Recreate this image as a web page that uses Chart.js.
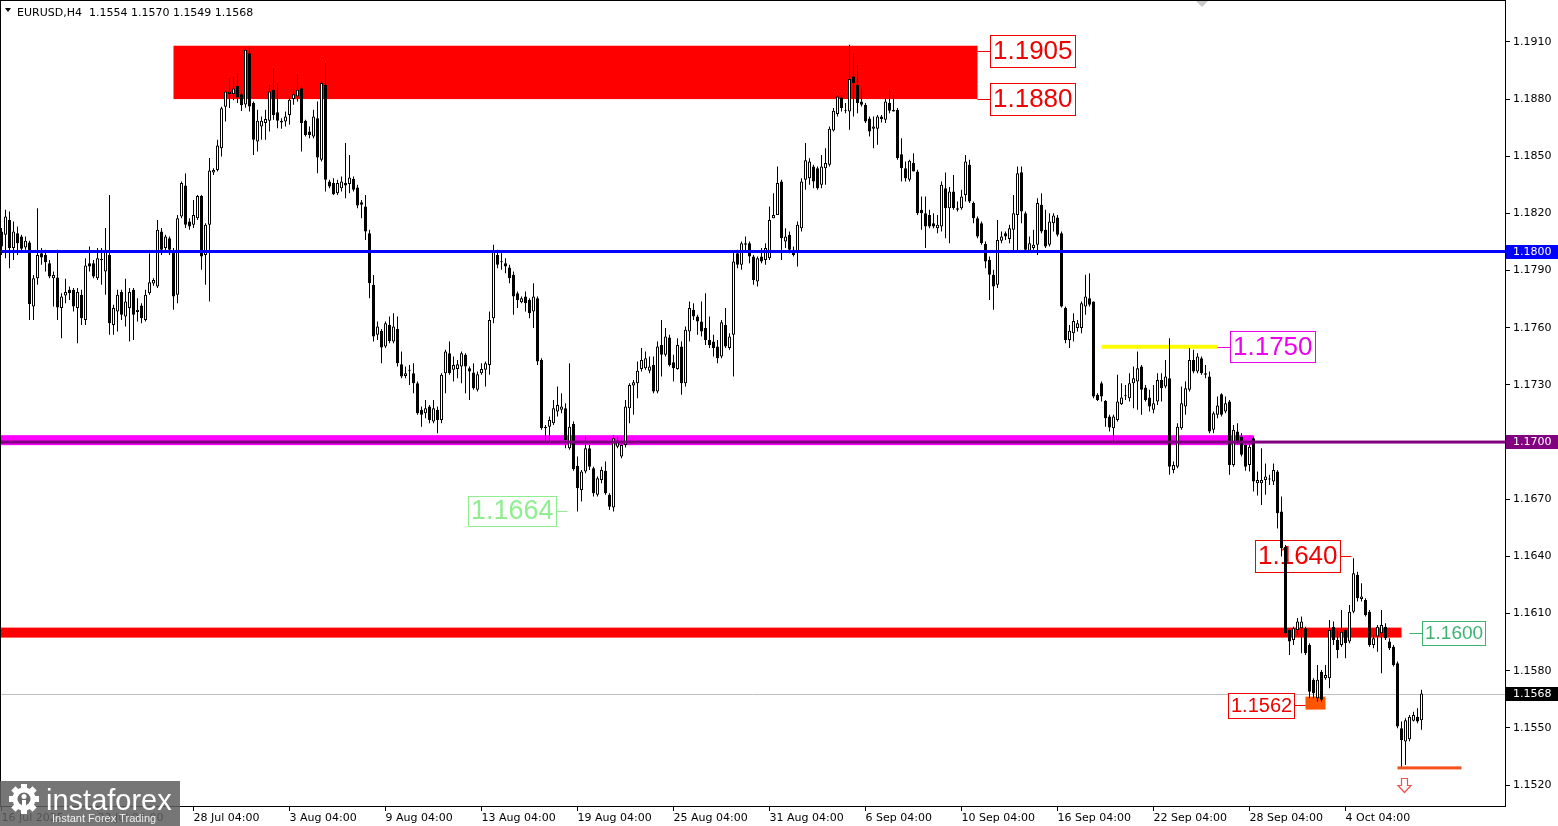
<!DOCTYPE html>
<html><head><meta charset="utf-8">
<script src="https://cdn.jsdelivr.net/npm/chart.js@4.4.1/dist/chart.umd.min.js"></script>
<style>html,body{margin:0;padding:0;background:#fff;overflow:hidden}canvas{display:block}</style>
</head><body>
<canvas id="c" width="1558" height="826"></canvas>
<script>
// ---------- DATA (EURUSD H4) ----------
const opens = [
1.18105,1.18088,1.18166,1.18018,1.18096,1.18079,1.18021,1.18047,1.17711,1.17860,
1.17991,1.17982,1.17939,1.17860,1.17864,1.17703,1.17769,1.17799,1.17799,1.17703,
1.17773,1.17641,1.17939,1.17939,1.17860,1.17956,1.17895,1.17982,1.17615,1.17685,
1.17787,1.17659,1.17703,1.17799,1.17682,1.17717,1.17641,1.17781,1.17832,1.17816,
1.18105,1.18018,1.18070,1.18000,1.17773,1.18184,1.18346,1.18157,1.18140,1.18175,
1.18292,1.17982,1.18140,1.18415,1.18428,1.18542,1.18760,1.18827,1.18827,1.18869,
1.18825,1.18772,1.19041,1.18779,1.18577,1.18656,1.18674,1.18686,1.18849,1.18731,
1.18677,1.18682,1.18717,1.18801,1.18814,1.18857,1.18686,1.18630,1.18604,1.18700,
1.18481,1.18875,1.18367,1.18359,1.18306,1.18332,1.18359,1.18354,1.18381,1.18336,
1.18259,1.18236,1.18096,1.17825,1.17563,1.17584,1.17501,1.17615,1.17528,1.17594,
1.17409,1.17347,1.17374,1.17361,1.17309,1.17169,1.17151,1.17186,1.17108,1.17169,
1.17116,1.17361,1.17466,1.17379,1.17384,1.17396,1.17458,1.17388,1.17365,1.17274,
1.17361,1.17379,1.17405,1.17650,1.17982,1.17948,1.17939,1.17916,1.17878,1.17781,
1.17734,1.17764,1.17746,1.17685,1.17755,1.17431,1.17081,1.17081,1.17099,1.17160,
1.17169,1.17178,1.16968,1.17095,1.16876,1.16749,1.16845,1.16968,1.16863,1.16723,
1.16801,1.16849,1.16723,1.16656,1.16976,1.16924,1.16985,1.17178,1.17297,1.17309,
1.17384,1.17388,1.17374,1.17405,1.17265,1.17510,1.17458,1.17549,1.17419,1.17384,
1.17501,1.17309,1.17580,1.17694,1.17659,1.17633,1.17598,1.17536,1.17528,1.17501,
1.17449,1.17615,1.17493,1.17563,1.17991,1.17930,1.18035,1.18044,1.17974,1.17843,
1.17974,1.17956,1.17965,1.18175,1.18192,1.18367,1.18052,1.18088,1.18009,1.18000,
1.18122,1.18376,1.18385,1.18446,1.18437,1.18350,1.18437,1.18455,1.18635,1.18722,
1.18808,1.18739,1.18735,1.18918,1.18875,1.18787,1.18770,1.18698,1.18644,1.18644,
1.18709,1.18691,1.18779,1.18735,1.18744,1.18511,1.18437,1.18376,1.18464,1.18420,
1.18219,1.18201,1.18192,1.18149,1.18122,1.18131,1.18332,1.18227,1.18315,1.18219,
1.18227,1.18297,1.18455,1.18254,1.18175,1.18149,1.18039,1.17956,1.17878,1.17825,
1.18056,1.18096,1.18066,1.18114,1.18192,1.18416,1.18201,1.18004,1.18018,1.18035,
1.18245,1.18114,1.18035,1.18149,1.18178,1.18096,1.17703,1.17536,1.17571,1.17598,
1.17598,1.17711,1.17755,1.17738,1.17248,1.17309,1.17216,1.17134,1.17073,1.17116,
1.17199,1.17241,1.17230,1.17309,1.17318,1.17396,1.17286,1.17234,1.17169,1.17213,
1.17326,1.17291,1.17335,1.16854,1.16871,1.17073,1.17186,1.17274,1.17431,1.17370,
1.17440,1.17361,1.17344,1.17064,1.17143,1.17251,1.17160,1.17213,1.16880,1.17055,
1.17029,1.16985,1.16880,1.17020,1.16784,1.16784,1.16801,1.16803,1.16793,1.16845,
1.16635,1.16451,1.16014,1.15961,1.16014,1.16023,1.16023,1.15935,1.15752,1.15655,
1.15795,1.15760,1.15760,1.16031,1.15961,1.15935,1.16014,1.15953,1.16110,1.16303,
1.16177,1.16171,1.16110,1.15935,1.15979,1.15996,1.16031,1.15953,1.15926,1.15839,
1.15498,1.15428,1.15440,1.15537,1.15559,1.15540
];
const highs = [
1.18123,1.18219,1.18210,1.18157,1.18131,1.18088,1.18079,1.18056,1.17877,1.18227,
1.18018,1.18009,1.17956,1.17895,1.18009,1.17781,1.17857,1.17816,1.17808,1.17808,
1.17799,1.17965,1.18026,1.17956,1.18018,1.18018,1.18123,1.18297,1.17720,1.17799,
1.17799,1.17857,1.17808,1.17808,1.17755,1.17729,1.17799,1.17991,1.17860,1.18166,
1.18123,1.18088,1.18079,1.18018,1.18192,1.18367,1.18409,1.18175,1.18271,1.18297,
1.18297,1.18149,1.18491,1.18437,1.18586,1.18760,1.18848,1.18910,1.18919,1.18936,
1.18834,1.19068,1.19070,1.18787,1.18744,1.18709,1.18744,1.18875,1.18962,1.18884,
1.18700,1.18735,1.18814,1.18849,1.18931,1.18866,1.18691,1.18656,1.18744,1.18787,
1.18892,1.18989,1.18376,1.18385,1.18376,1.18394,1.18569,1.18507,1.18394,1.18350,
1.18271,1.18297,1.18114,1.17877,1.17633,1.17594,1.17633,1.17659,1.17676,1.17659,
1.17475,1.17396,1.17405,1.17414,1.17318,1.17186,1.17221,1.17195,1.17221,1.17186,
1.17361,1.17484,1.17528,1.17449,1.17431,1.17475,1.17466,1.17396,1.17414,1.17370,
1.17414,1.17423,1.17685,1.18035,1.18009,1.17991,1.17965,1.17930,1.17895,1.17790,
1.17764,1.17790,1.17755,1.17834,1.17764,1.17440,1.17090,1.17134,1.17221,1.17291,
1.17256,1.17204,1.17414,1.17108,1.16924,1.16854,1.17029,1.16985,1.16871,1.16819,
1.16871,1.16898,1.16731,1.17034,1.17029,1.17011,1.17221,1.17309,1.17326,1.17423,
1.17493,1.17475,1.17449,1.17449,1.17528,1.17641,1.17598,1.17563,1.17458,1.17545,
1.17528,1.17606,1.17738,1.17729,1.17668,1.17738,1.17781,1.17659,1.17563,1.17536,
1.17641,1.17703,1.17571,1.18000,1.18009,1.18052,1.18079,1.18052,1.17982,1.17974,
1.18018,1.18044,1.18236,1.18306,1.18446,1.18376,1.18122,1.18105,1.18026,1.18157,
1.18385,1.18569,1.18490,1.18455,1.18446,1.18507,1.18542,1.18656,1.18753,1.18822,
1.18822,1.18779,1.19085,1.19041,1.18980,1.18857,1.18779,1.18709,1.18709,1.18717,
1.18717,1.18805,1.18849,1.18822,1.18753,1.18595,1.18472,1.18481,1.18516,1.18429,
1.18289,1.18289,1.18219,1.18201,1.18192,1.18367,1.18415,1.18338,1.18402,1.18262,
1.18324,1.18507,1.18481,1.18262,1.18184,1.18157,1.18052,1.17974,1.17904,1.18166,
1.18105,1.18105,1.18140,1.18297,1.18446,1.18446,1.18210,1.18079,1.18114,1.18280,
1.18306,1.18219,1.18201,1.18201,1.18192,1.18105,1.17711,1.17615,1.17676,1.17641,
1.17738,1.17878,1.17886,1.17738,1.17256,1.17318,1.17221,1.17143,1.17143,1.17353,
1.17309,1.17300,1.17361,1.17396,1.17475,1.17405,1.17300,1.17274,1.17300,1.17361,
1.17361,1.17431,1.17545,1.16898,1.17099,1.17291,1.17318,1.17493,1.17484,1.17466,
1.17449,1.17405,1.17370,1.17160,1.17239,1.17256,1.17239,1.17221,1.17090,1.17099,
1.17046,1.17000,1.16994,1.17029,1.16845,1.16968,1.16888,1.16828,1.16888,1.16854,
1.16714,1.16460,1.16023,1.16031,1.16076,1.16084,1.16031,1.15944,1.15760,1.15830,
1.15804,1.15830,1.16066,1.16058,1.16005,1.16119,1.16023,1.16145,1.16390,1.16320,
1.16259,1.16180,1.16119,1.15988,1.16040,1.16119,1.16049,1.15970,1.15935,1.15848,
1.15533,1.15550,1.15568,1.15585,1.15603,1.15700
];
const lows = [
1.17982,1.17965,1.17912,1.17956,1.17982,1.18000,1.18009,1.17641,1.17641,1.17825,
1.17930,1.17895,1.17860,1.17711,1.17641,1.17545,1.17729,1.17746,1.17685,1.17519,
1.17615,1.17615,1.17895,1.17860,1.17851,1.17825,1.17773,1.17563,1.17563,1.17580,
1.17641,1.17606,1.17528,1.17536,1.17633,1.17624,1.17633,1.17773,1.17820,1.17808,
1.17982,1.18000,1.17982,1.17694,1.17729,1.18175,1.18123,1.18114,1.18123,1.18166,
1.17904,1.17825,1.17738,1.18402,1.18420,1.18499,1.18682,1.18753,1.18794,1.18779,
1.18737,1.18755,1.18735,1.18507,1.18525,1.18586,1.18586,1.18630,1.18691,1.18647,
1.18644,1.18656,1.18665,1.18770,1.18787,1.18525,1.18604,1.18595,1.18595,1.18411,
1.18472,1.18315,1.18332,1.18297,1.18297,1.18315,1.18280,1.18306,1.18315,1.18227,
1.18175,1.18061,1.17755,1.17528,1.17536,1.17414,1.17493,1.17519,1.17519,1.17396,
1.17335,1.17335,1.17300,1.17256,1.17143,1.17081,1.17125,1.17099,1.17099,1.17046,
1.17099,1.17256,1.17353,1.17318,1.17335,1.17309,1.17256,1.17221,1.17274,1.17265,
1.17353,1.17291,1.17353,1.17624,1.17912,1.17904,1.17886,1.17834,1.17668,1.17703,
1.17729,1.17685,1.17650,1.17598,1.17405,1.17064,1.17003,1.17003,1.17090,1.17134,
1.17151,1.16968,1.16959,1.16850,1.16635,1.16688,1.16836,1.16854,1.16714,1.16714,
1.16784,1.16723,1.16644,1.16635,1.16968,1.16915,1.16971,1.17099,1.17143,1.17230,
1.17370,1.17379,1.17361,1.17256,1.17256,1.17344,1.17449,1.17396,1.17318,1.17379,
1.17248,1.17291,1.17528,1.17641,1.17563,1.17554,1.17510,1.17493,1.17449,1.17414,
1.17440,1.17493,1.17484,1.17344,1.17912,1.17904,1.18000,1.17939,1.17825,1.17816,
1.17939,1.17930,1.17956,1.18175,1.18192,1.17956,1.18018,1.17991,1.17974,1.17921,
1.18105,1.18324,1.18350,1.18332,1.18324,1.18332,1.18350,1.18446,1.18630,1.18709,
1.18735,1.18726,1.18639,1.18709,1.18726,1.18761,1.18674,1.18604,1.18542,1.18560,
1.18677,1.18674,1.18726,1.18735,1.18481,1.18367,1.18367,1.18367,1.18420,1.18192,
1.18114,1.18018,1.18122,1.18122,1.18096,1.18105,1.18070,1.18044,1.18219,1.18210,
1.18219,1.18262,1.18254,1.18149,1.18070,1.18035,1.17912,1.17746,1.17694,1.17808,
1.18044,1.18061,1.18044,1.18000,1.18000,1.18149,1.18000,1.18000,1.18009,1.17982,
1.18096,1.18018,1.18026,1.18105,1.18079,1.17706,1.17519,1.17493,1.17528,1.17580,
1.17571,1.17668,1.17711,1.17230,1.17216,1.17213,1.17081,1.17055,1.17003,1.17108,
1.17195,1.17221,1.17213,1.17178,1.17169,1.17143,1.17213,1.17160,1.17151,1.17195,
1.17213,1.17283,1.16828,1.16836,1.16863,1.17064,1.17143,1.17265,1.17361,1.17361,
1.17353,1.17335,1.17046,1.17046,1.17125,1.17134,1.17151,1.16828,1.16871,1.16985,
1.16924,1.16850,1.16845,1.16740,1.16720,1.16670,1.16723,1.16775,1.16775,1.16547,
1.16399,1.15988,1.15883,1.15935,1.15988,1.15891,1.15883,1.15655,1.15655,1.15638,
1.15638,1.15752,1.15708,1.15935,1.15865,1.15926,1.15865,1.15944,1.16101,1.16163,
1.16163,1.16084,1.15926,1.15918,1.15900,1.15787,1.15961,1.15909,1.15822,1.15498,
1.15284,1.15305,1.15430,1.15533,1.15524,1.15490
];
const closes = [
1.18026,1.18184,1.18018,1.18105,1.18044,1.18014,1.18056,1.17724,1.17860,1.17982,
1.17969,1.17944,1.17869,1.17877,1.17706,1.17764,1.17787,1.17781,1.17711,1.17787,
1.17650,1.17927,1.17921,1.17869,1.17965,1.17960,1.18009,1.17624,1.17703,1.17773,
1.17668,1.17738,1.17787,1.17668,1.17694,1.17650,1.17773,1.17839,1.17850,1.18114,
1.18009,1.18079,1.18009,1.17764,1.18175,1.18359,1.18140,1.18131,1.18192,1.18292,
1.17974,1.18140,1.18425,1.18428,1.18556,1.18752,1.18840,1.18839,1.18856,1.18808,
1.18767,1.19059,1.18761,1.18586,1.18686,1.18686,1.18696,1.18840,1.18717,1.18686,
1.18686,1.18709,1.18796,1.18826,1.18849,1.18674,1.18612,1.18612,1.18709,1.18493,
1.18884,1.18376,1.18341,1.18301,1.18359,1.18367,1.18346,1.18388,1.18324,1.18241,
1.18245,1.18105,1.17834,1.17554,1.17606,1.17496,1.17624,1.17531,1.17606,1.17414,
1.17344,1.17361,1.17377,1.17309,1.17151,1.17143,1.17178,1.17116,1.17178,1.17116,
1.17353,1.17475,1.17361,1.17405,1.17409,1.17466,1.17396,1.17370,1.17283,1.17356,
1.17384,1.17414,1.17641,1.18000,1.17930,1.17944,1.17921,1.17860,1.17764,1.17746,
1.17755,1.17729,1.17676,1.17764,1.17423,1.17073,1.17073,1.17116,1.17178,1.17195,
1.17186,1.17011,1.17081,1.16859,1.16758,1.16845,1.16968,1.16871,1.16731,1.16810,
1.16854,1.16731,1.16661,1.17020,1.17003,1.16985,1.17186,1.17300,1.17314,1.17374,
1.17431,1.17440,1.17396,1.17265,1.17501,1.17458,1.17554,1.17405,1.17388,1.17510,
1.17309,1.17589,1.17703,1.17659,1.17633,1.17580,1.17536,1.17510,1.17493,1.17440,
1.17629,1.17501,1.17554,1.17948,1.17930,1.18044,1.18044,1.17974,1.17851,1.17965,
1.17948,1.18018,1.18166,1.18192,1.18359,1.18070,1.18079,1.18009,1.17982,1.18140,
1.18367,1.18479,1.18472,1.18367,1.18332,1.18446,1.18464,1.18644,1.18739,1.18814,
1.18753,1.18744,1.18906,1.18884,1.18779,1.18770,1.18682,1.18630,1.18656,1.18709,
1.18696,1.18787,1.18739,1.18744,1.18490,1.18437,1.18385,1.18476,1.18420,1.18201,
1.18201,1.18131,1.18131,1.18131,1.18140,1.18350,1.18227,1.18315,1.18227,1.18227,
1.18289,1.18472,1.18262,1.18175,1.18079,1.18044,1.17948,1.17878,1.17816,1.18061,
1.18079,1.18079,1.18122,1.18201,1.18411,1.18210,1.18009,1.18044,1.18035,1.18254,
1.18105,1.18026,1.18157,1.18189,1.18088,1.17711,1.17536,1.17584,1.17636,1.17624,
1.17729,1.17764,1.17720,1.17239,1.17221,1.17239,1.17125,1.17076,1.17134,1.17213,
1.17234,1.17244,1.17309,1.17335,1.17388,1.17274,1.17221,1.17186,1.17204,1.17326,
1.17283,1.17344,1.16871,1.16880,1.17081,1.17204,1.17283,1.17431,1.17370,1.17449,
1.17361,1.17353,1.17055,1.17151,1.17192,1.17143,1.17204,1.16880,1.17064,1.17003,
1.16933,1.16871,1.16976,1.16793,1.16801,1.16801,1.16819,1.16806,1.16854,1.16627,
1.16443,1.15996,1.15953,1.16023,1.16058,1.16058,1.15891,1.15690,1.15682,1.15752,
1.15647,1.15778,1.16014,1.15961,1.15909,1.16005,1.15944,1.16110,1.16311,1.16180,
1.16189,1.16093,1.15935,1.15970,1.16031,1.16040,1.15970,1.15918,1.15830,1.15507,
1.15437,1.15540,1.15559,1.15568,1.15533,1.15680
];
const xTickBars = [0,24,48,72,96,120,144,168,192,216,240,264,288,312,336];
const xTickLabels = ['16 Jul 2025','22 Jul 04:00','28 Jul 04:00','3 Aug 04:00','9 Aug 04:00','13 Aug 04:00','19 Aug 04:00','25 Aug 04:00','31 Aug 04:00','6 Sep 04:00','10 Sep 04:00','16 Sep 04:00','22 Sep 04:00','28 Sep 04:00','4 Oct 04:00'];
const yTickValues = [1.1520,1.1550,1.1580,1.1610,1.1640,1.1670,1.1700,1.1730,1.1760,1.1790,1.1820,1.1850,1.1880,1.1910];
const headerText = 'EURUSD,H4  1.1554 1.1570 1.1549 1.1568';
const bidPrice = 1.1568;

// analysis objects (prices and bar anchors)
const zonePrices = [1.1908, 1.1880];
const zoneBars = [43, 244];
const blueLevel = 1.1800;
const purpleLevel = 1.1700;
const magentaLevel = 1.1701, magentaEndBar = 313;
const redLevel = 1.1600, redEndBar = 350;
const yellowLevel = 1.1750, yellowBars = [275, 304];
const orangeLevel = 1.1529, orangeBars = [349, 365];
const orangeBoxPrices = [1.15664, 1.15596], orangeBoxBars = [326, 331];
const arrowBar = 350.5, arrowPrice = 1.15237;
const labelLevels = [1.1905, 1.1880, 1.1750, 1.1664, 1.1640, 1.1600, 1.1562];
const labelBars = [244, 244, 304, 141.5, 337.5, 352, 326];
const labelSides = ['r','r','r','l','l','r','l'];
const labelColors = ['#f00000','#f00000','#ee00ee','#90ee90','#f00000','#3cb371','#f00000'];
const labelSizes = [26, 26, 26, 27, 26, 19, 20];
const labelBoxH = [32, 32, 31, 30, 32, 24, 25];

// ---------- CHART ----------
const n = opens.length;
const bodyData = [], wickData = [], bodyColors = [];
for (let i = 0; i < n; i++) {
  bodyData.push({x: i, y: [opens[i], closes[i]]});
  wickData.push({x: i, y: [Math.min(lows[i], opens[i], closes[i]), Math.max(highs[i], opens[i], closes[i])]});
  bodyColors.push(closes[i] >= opens[i] ? '#ffffff' : '#000000');
}

Chart.defaults.font.family = '"DejaVu Sans", Verdana, sans-serif';
Chart.defaults.font.size = 11;
Chart.defaults.color = '#000';

const FONT_LBL = '"Liberation Sans", Arial, sans-serif';

function hband(ctx, y, x1, x2, lw, color) {
  ctx.fillStyle = color;
  ctx.fillRect(x1, y - lw / 2, x2 - x1, lw);
}

const overlay = {
  id: 'overlay',
  beforeDatasetsDraw(chart) {
    const {ctx, chartArea: a, scales: {x, y}} = chart;
    ctx.save();
    ctx.beginPath(); ctx.rect(a.left, a.top, a.right - a.left, a.bottom - a.top); ctx.clip();
    const zx1 = x.getPixelForValue(zoneBars[0]), zx2 = x.getPixelForValue(zoneBars[1]);
    const zy1 = y.getPixelForValue(zonePrices[0]), zy2 = y.getPixelForValue(zonePrices[1]);
    ctx.fillStyle = '#ff0000';
    ctx.fillRect(zx1, zy1, zx2 - zx1, zy2 - zy1);
    hband(ctx, y.getPixelForValue(magentaLevel), a.left, x.getPixelForValue(magentaEndBar), 10, '#ff00ff');
    hband(ctx, y.getPixelForValue(redLevel), a.left, x.getPixelForValue(redEndBar), 10, '#ff0000');
    hband(ctx, y.getPixelForValue(yellowLevel), x.getPixelForValue(yellowBars[0]), x.getPixelForValue(yellowBars[1]), 4, '#ffff00');
    const ox1 = x.getPixelForValue(orangeBoxBars[0]), ox2 = x.getPixelForValue(orangeBoxBars[1]);
    const oy1 = y.getPixelForValue(orangeBoxPrices[0]), oy2 = y.getPixelForValue(orangeBoxPrices[1]);
    ctx.fillStyle = '#ff5500';
    ctx.fillRect(ox1, oy1, ox2 - ox1, oy2 - oy1);
    const by = Math.round(y.getPixelForValue(bidPrice)) + 0.5;
    ctx.strokeStyle = '#c0c0c0'; ctx.lineWidth = 1;
    ctx.beginPath(); ctx.moveTo(a.left, by); ctx.lineTo(a.right, by); ctx.stroke();
    for (let k = 0; k < labelLevels.length; k++) {
      const ax = x.getPixelForValue(labelBars[k]);
      const ay = y.getPixelForValue(labelLevels[k]);
      const color = labelColors[k];
      ctx.font = labelSizes[k] + 'px ' + FONT_LBL;
      const text = labelLevels[k].toFixed(4);
      const tw = ctx.measureText(text).width;
      const bw = Math.round(tw + 5), bh = labelBoxH[k], gap = 12;
      const bx = Math.round(labelSides[k] === 'r' ? ax + gap : ax - gap - bw);
      const bTop = Math.round(ay - bh / 2);
      const ly = Math.round(ay) + 0.5;
      ctx.strokeStyle = color; ctx.lineWidth = 1;
      ctx.beginPath();
      if (labelSides[k] === 'r') { ctx.moveTo(ax, ly); ctx.lineTo(bx, ly); }
      else { ctx.moveTo(bx + bw, ly); ctx.lineTo(ax, ly); }
      ctx.stroke();
      ctx.fillStyle = '#fff';
      ctx.fillRect(bx, bTop, bw, bh);
      ctx.strokeRect(bx + 0.5, bTop + 0.5, bw, bh);
      ctx.fillStyle = color; ctx.textAlign = 'left'; ctx.textBaseline = 'middle';
      ctx.fillText(text, bx + 3, bTop + bh / 2 + 1);
    }
    ctx.restore();
  },
  afterDatasetsDraw(chart) {
    const {ctx, chartArea: a, scales: {x, y}} = chart;
    ctx.save();
    ctx.beginPath(); ctx.rect(a.left, a.top, a.right - a.left, a.bottom - a.top); ctx.clip();
    hband(ctx, y.getPixelForValue(blueLevel), a.left, a.right, 3, '#0000ff');
    hband(ctx, y.getPixelForValue(purpleLevel), a.left, a.right, 3, '#800080');
    hband(ctx, y.getPixelForValue(orangeLevel), x.getPixelForValue(orangeBars[0]), x.getPixelForValue(orangeBars[1]), 3, '#f4511e');
    const cx = Math.round(x.getPixelForValue(arrowBar)) + 0.5;
    const ty = Math.round(y.getPixelForValue(arrowPrice)) + 0.5;
    ctx.strokeStyle = '#f05050'; ctx.lineWidth = 1.2;
    ctx.beginPath();
    ctx.moveTo(cx - 3, ty); ctx.lineTo(cx + 3, ty); ctx.lineTo(cx + 3, ty + 7);
    ctx.lineTo(cx + 6.5, ty + 7); ctx.lineTo(cx, ty + 14); ctx.lineTo(cx - 6.5, ty + 7);
    ctx.lineTo(cx - 3, ty + 7); ctx.closePath(); ctx.stroke();
    ctx.restore();
  },
  afterDraw(chart) {
    const {ctx, chartArea: a, scales: {y}} = chart;
    ctx.save();
    ctx.strokeStyle = '#000'; ctx.lineWidth = 1;
    ctx.strokeRect(a.left + 0.5, a.top + 0.5, a.right - a.left, a.bottom - a.top);
    const marks = [[blueLevel, '#0000ff'], [purpleLevel, '#800080'], [bidPrice, '#000000']];
    ctx.font = '11px "DejaVu Sans", Verdana, sans-serif';
    ctx.textAlign = 'left'; ctx.textBaseline = 'middle';
    for (const [lv, col] of marks) {
      const py = Math.round(y.getPixelForValue(lv));
      ctx.fillStyle = col;
      ctx.fillRect(a.right + 1, py - 7, chart.width - a.right - 1, 14);
      ctx.fillStyle = '#fff';
      ctx.fillText(lv.toFixed(4), a.right + 8, py + 0.5);
    }
    ctx.fillStyle = '#000';
    ctx.beginPath(); ctx.moveTo(5, 8); ctx.lineTo(11, 8); ctx.lineTo(8, 12); ctx.closePath(); ctx.fill();
    ctx.textBaseline = 'alphabetic';
    ctx.fillText(headerText, 17, 16);
    ctx.fillStyle = '#c8c8c8';
    ctx.beginPath(); ctx.moveTo(1196, 1); ctx.lineTo(1208, 1); ctx.lineTo(1202, 7); ctx.closePath(); ctx.fill();
    // watermark
    ctx.fillStyle = 'rgba(96,96,96,0.86)';
    ctx.fillRect(0, 781, 180, 45);
    const gx = 24, gy = 799;
    ctx.fillStyle = '#fff';
    for (let t = 0; t < 8; t++) {
      ctx.save(); ctx.translate(gx, gy); ctx.rotate(t * Math.PI / 4);
      ctx.fillRect(-3, -15, 6, 6); ctx.restore();
    }
    ctx.beginPath(); ctx.arc(gx, gy, 11.5, 0, Math.PI * 2); ctx.fill();
    ctx.fillStyle = '#6a6a6a';
    ctx.beginPath(); ctx.arc(gx, gy, 6.5, 0, Math.PI * 2); ctx.fill();
    ctx.fillStyle = '#fff';
    ctx.beginPath(); ctx.arc(gx, gy - 2.5, 2.5, 0, Math.PI * 2); ctx.fill();
    ctx.fillRect(gx - 2, gy + 1, 4, 9);
    ctx.font = '29px ' + FONT_LBL;
    ctx.fillText('instaforex', 46, 810);
    ctx.font = '11px ' + FONT_LBL;
    ctx.fillStyle = 'rgba(255,255,255,0.9)';
    ctx.fillText('Instant Forex Trading', 52, 822);
    ctx.restore();
  }
};

new Chart(document.getElementById('c'), {
  type: 'bar',
  data: {
    datasets: [
      { label: 'body', data: bodyData, backgroundColor: bodyColors, borderColor: '#000', borderWidth: 1,
        borderSkipped: false, barThickness: 3, minBarLength: 1, grouped: false, inflateAmount: 0 },
      { label: 'wick', data: wickData, backgroundColor: '#000', borderWidth: 0,
        barThickness: 1, grouped: false, inflateAmount: 0 }
    ]
  },
  options: {
    responsive: false,
    animation: false,
    devicePixelRatio: 1,
    events: [],
    layout: { padding: 0, autoPadding: false },
    plugins: { legend: { display: false }, tooltip: { enabled: false }, title: { display: false } },
    scales: {
      x: {
        type: 'linear', offset: false, min: -0.375, max: 375.875,
        grid: { display: true, drawOnChartArea: false, drawTicks: true, tickLength: 5, color: '#000', offset: false },
        border: { display: false },
        afterBuildTicks: s => { s.ticks = xTickBars.map(v => ({ value: v })); },
        afterFit: s => { s.height = 20; s.paddingLeft = 0; s.paddingRight = 0; },
        ticks: { autoSkip: false, maxRotation: 0, minRotation: 0, align: 'start', padding: 1,
          callback: v => { const k = xTickBars.indexOf(v); return k >= 0 ? xTickLabels[k] : ''; } }
      },
      y: {
        type: 'linear', position: 'right', min: 1.15090, max: 1.19320, beginAtZero: false,
        grid: { display: true, drawOnChartArea: false, drawTicks: true, tickLength: 5, color: '#000' },
        border: { display: false },
        afterBuildTicks: s => { s.ticks = yTickValues.map(v => ({ value: v })); },
        afterFit: s => { s.width = 53; s.paddingTop = 0; s.paddingBottom = 0; },
        ticks: { padding: 3, callback: v => Number(v).toFixed(4) }
      }
    }
  },
  plugins: [overlay]
});
</script>
</body></html>
